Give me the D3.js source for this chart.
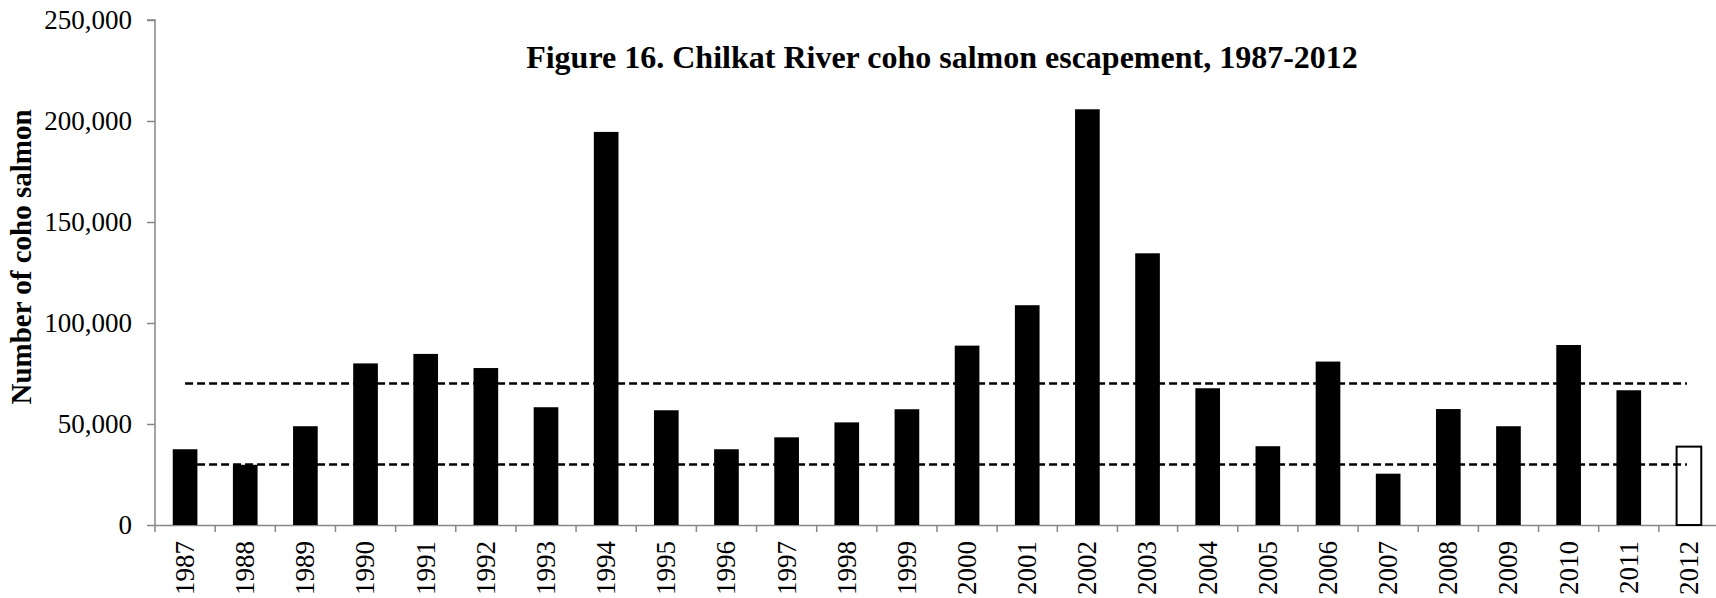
<!DOCTYPE html>
<html>
<head>
<meta charset="utf-8">
<script src="https://cdnjs.cloudflare.com/ajax/libs/d3/7.8.5/d3.min.js"></script>
<style>
  html, body { margin: 0; padding: 0; background: #fff; }
  svg { display: block; font-family: "Liberation Serif", "Times New Roman", serif; }
</style>
</head>
<body>
<div id="chart-div"></div>
<script>
// chart data
const years = ["1987", "1988", "1989", "1990", "1991", "1992", "1993", "1994", "1995", "1996",
  "1997", "1998", "1999", "2000", "2001", "2002", "2003", "2004", "2005", "2006",
  "2007", "2008", "2009", "2010", "2011", "2012"];
const escapement = [37500, 29800, 48900, 80000, 84700, 77700, 58300, 194600, 56800, 37500,
  43400, 50800, 57300, 88800, 108800, 205800, 134500, 67700, 39000, 80900,
  25400, 57400, 48900, 89100, 66700, 38800];
const openYears = ["2012"]; // drawn as hollow bar
const goalRange = [30000, 70000]; // dashed lines
const yTicks = [0, 50000, 100000, 150000, 200000, 250000];
const chartTitle = "Figure 16. Chilkat River coho salmon escapement, 1987-2012";
const yTitle = "Number of coho salmon";

// layout constants
const CHART_WIDTH = 1716;
const CHART_HEIGHT = 598;
const MARGIN = { left: 155, right: -3, top: 20, bottom: 73 };
const AXIS_COLOR = "#868686";

var svg, xScale, yScale;

setup();

function setup() {
  svg = d3.select("#chart-div")
    .append("svg")
    .attr("width", CHART_WIDTH)
    .attr("height", CHART_HEIGHT);

  xScale = d3.scaleBand()
    .domain(years)
    .range([MARGIN.left, CHART_WIDTH - MARGIN.right]);

  yScale = d3.scaleLinear()
    .domain([0, 250000])
    .range([CHART_HEIGHT - MARGIN.bottom, MARGIN.top]);

  drawAxes();
  drawBars();
  drawGoalLines();
  drawTitles();
}

function drawAxes() {
  let gY = svg.append("g")
    .attr("transform", "translate(" + MARGIN.left + ",0)")
    .call(d3.axisLeft(yScale)
      .tickValues(yTicks)
      .tickSize(8)
      .tickPadding(15)
      .tickFormat(d3.format(",")));

  let gX = svg.append("g")
    .attr("transform", "translate(0," + (CHART_HEIGHT - MARGIN.bottom) + ")")
    .call(d3.axisBottom(xScale).tickSize(0).tickSizeOuter(0));

  // ticks sit between categories, like Excel
  gX.selectAll(".tick line").remove();
  gX.selectAll(".sep")
    .data(years)
    .enter()
    .append("line")
    .attr("x1", d => xScale(d))
    .attr("x2", d => xScale(d))
    .attr("y1", 0)
    .attr("y2", 7)
    .attr("stroke", AXIS_COLOR)
    .attr("stroke-width", 1.5);

  gX.selectAll(".tick text")
    .attr("transform", "rotate(-90)")
    .attr("x", -16)
    .attr("y", 0)
    .attr("dy", "0.33em")
    .attr("text-anchor", "end");

  [gX, gY].forEach(g => {
    g.select(".domain").attr("stroke", AXIS_COLOR).attr("stroke-width", 1.5);
    g.selectAll(".tick line").attr("stroke", AXIS_COLOR).attr("stroke-width", 1.5);
    g.selectAll("text")
      .attr("fill", "#000")
      .style("font-family", "'Liberation Serif', serif")
      .style("font-size", "27px");
  });
  gY.select(".domain").attr("d", "M-8," + yScale(250000) + "H0V" + yScale(0));
}

function drawBars() {
  let barWidth = xScale.bandwidth() * 0.41;

  svg.append("g")
    .selectAll("rect")
    .data(years)
    .enter()
    .append("rect")
    .attr("x", (d) => xScale(d) + (xScale.bandwidth() - barWidth) / 2)
    .attr("y", (d, i) => yScale(escapement[i]))
    .attr("width", barWidth)
    .attr("height", (d, i) => yScale(0) - yScale(escapement[i]))
    .attr("fill", d => openYears.includes(d) ? "#fff" : "#000")
    .attr("stroke", d => openYears.includes(d) ? "#000" : "none")
    .attr("stroke-width", 2);
}

function drawGoalLines() {
  let half = xScale.bandwidth() / 2;
  let x0 = xScale(years[0]) + half;
  let x1 = xScale(years[years.length - 1]) + half - 2;

  svg.append("g")
    .selectAll("line")
    .data(goalRange)
    .enter()
    .append("line")
    .attr("x1", x0)
    .attr("x2", x1)
    .attr("y1", d => yScale(d))
    .attr("y2", d => yScale(d))
    .attr("stroke", "#000")
    .attr("stroke-width", 2.5)
    .attr("stroke-dasharray", "8,4");
}

function drawTitles() {
  let plotCenter = (MARGIN.left + CHART_WIDTH - MARGIN.right) / 2;

  svg.append("text")
    .attr("x", plotCenter + 5)
    .attr("y", 68)
    .attr("text-anchor", "middle")
    .style("font-size", "32px")
    .style("font-weight", "bold")
    .text(chartTitle);

  svg.append("text")
    .attr("transform", "translate(31," + 257 + ") rotate(-90)")
    .attr("text-anchor", "middle")
    .style("font-size", "29px")
    .style("font-weight", "bold")
    .text(yTitle);
}
</script>
</body>
</html>
